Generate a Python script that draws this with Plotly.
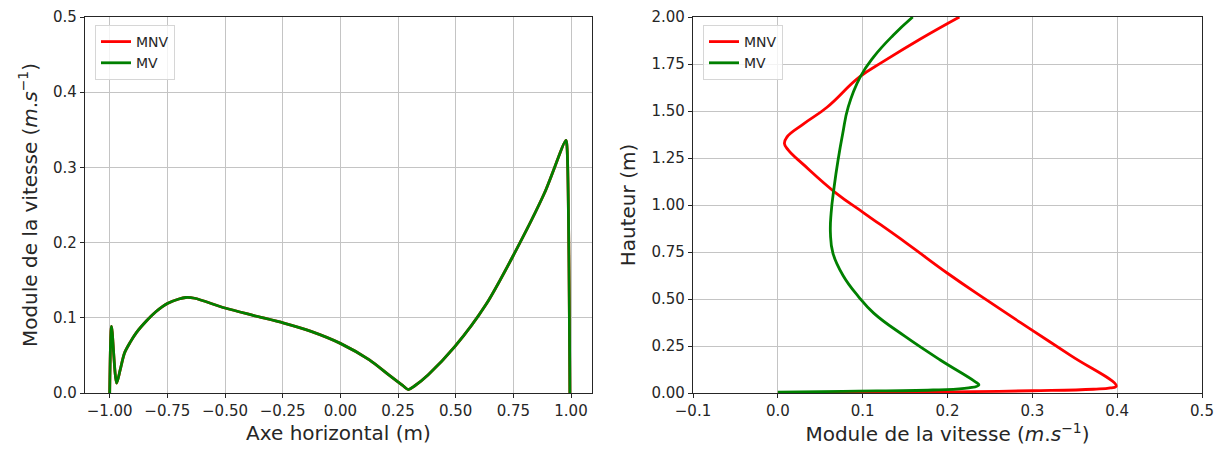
import plotly.graph_objects as go

# ---- Left panel data (horizontal profile) ----
x_h = [-1.0, -0.992, -0.97, -0.955, -0.936, -0.91, -0.885, -0.84, -0.80, -0.75, -0.70, -0.67, -0.632,
       -0.5, -0.375, -0.245, -0.127, 0.0, 0.126, 0.21, 0.27, 0.295, 0.32, 0.38, 0.497,
       0.632, 0.75, 0.885, 0.978, 0.982, 0.995]
mnv_h = [0.0, 0.0885, 0.013, 0.03, 0.053, 0.068, 0.08, 0.096, 0.108, 0.119, 0.125, 0.127, 0.126,
         0.113, 0.103, 0.093, 0.082, 0.066, 0.044, 0.024, 0.01, 0.0045, 0.009, 0.024, 0.062,
         0.118, 0.183, 0.266, 0.336, 0.33, 0.0]
mv_h = [0.0, 0.0885, 0.013, 0.03, 0.053, 0.068, 0.08, 0.096, 0.108, 0.119, 0.125, 0.127, 0.126,
        0.113, 0.103, 0.093, 0.082, 0.066, 0.044, 0.024, 0.01, 0.0045, 0.009, 0.024, 0.062,
        0.118, 0.183, 0.266, 0.336, 0.33, 0.0]

# ---- Right panel data (vertical profile) ----
mnv_v = [0.0, 0.2, 0.30, 0.372, 0.392, 0.399, 0.345, 0.296, 0.246, 0.2, 0.152, 0.102, 0.069,
         0.031, 0.0124, 0.0078, 0.0105, 0.03, 0.058, 0.096, 0.125, 0.168, 0.214]
mnv_z = [0.0, 0.006, 0.012, 0.02, 0.027, 0.037, 0.2, 0.345, 0.495, 0.637, 0.796, 0.956, 1.062,
         1.212, 1.292, 1.327, 1.36, 1.43, 1.52, 1.68, 1.765, 1.883, 2.0]
mv_v = [0.0, 0.0765, 0.183, 0.225, 0.237, 0.232, 0.191, 0.15, 0.113, 0.095, 0.0765, 0.065,
        0.062, 0.0628, 0.0664, 0.071, 0.0765, 0.083, 0.097, 0.113, 0.136, 0.159]
mv_z = [0.004, 0.009, 0.016, 0.027, 0.043, 0.062, 0.177, 0.301, 0.425, 0.513, 0.628, 0.743,
        0.85, 0.956, 1.097, 1.239, 1.38, 1.522, 1.68, 1.788, 1.903, 2.0]

RED = "#ff0000"
GREEN = "#008000"
FONT = "DejaVu Sans"
TXT = "#262626"

fig = go.Figure()
left_line = dict(width=2.8, shape="spline", smoothing=0.8)
right_line = dict(width=2.8, shape="spline", smoothing=1.3)
fig.add_trace(go.Scatter(x=x_h, y=mnv_h, mode="lines", name="MNV",
                         line=dict(color=RED, **left_line), xaxis="x", yaxis="y", legend="legend"))
fig.add_trace(go.Scatter(x=x_h, y=mv_h, mode="lines", name="MV",
                         line=dict(color=GREEN, **left_line), xaxis="x", yaxis="y", legend="legend"))
fig.add_trace(go.Scatter(x=mnv_v, y=mnv_z, mode="lines", name="MNV",
                         line=dict(color=RED, **right_line), xaxis="x2", yaxis="y2", legend="legend2"))
fig.add_trace(go.Scatter(x=mv_v, y=mv_z, mode="lines", name="MV",
                         line=dict(color=GREEN, **right_line), xaxis="x2", yaxis="y2", legend="legend2"))

axis_common = dict(showline=True, linecolor=TXT, linewidth=1.2, mirror=True,
                   ticks="outside", ticklen=4, tickcolor=TXT, tickwidth=1.2,
                   showgrid=True, gridcolor="#c4c4c4", gridwidth=1.2, zeroline=False,
                   automargin=False,
                   tickfont=dict(family=FONT, size=15, color=TXT))
title_font = dict(family=FONT, size=20, color=TXT)

legend_common = dict(bgcolor="rgba(255,255,255,0.8)", bordercolor="#d6d6d6", borderwidth=1,
                     font=dict(family=FONT, size=14, color=TXT),
                     xanchor="left", yanchor="top", tracegroupgap=0, itemwidth=30)

L, R, T, B = 85, 17, 17, 63
W = 1219 - L - R
H = 456 - T - B

vel_title = "Module de la vitesse (<i>m</i>.<i>s</i><sup>−1</sup>)"

fig.update_layout(
    width=1219, height=456,
    margin=dict(l=L, r=R, t=T, b=B, autoexpand=False),
    paper_bgcolor="white", plot_bgcolor="white",
    showlegend=True,
    xaxis=dict(domain=[0, (592 - L) / W], range=[-1.107, 1.091],
               tickvals=[-1, -0.75, -0.5, -0.25, 0, 0.25, 0.5, 0.75, 1],
               tickformat=".2f", title=dict(text="Axe horizontal (m)", font=title_font, standoff=6),
               anchor="y", **axis_common),
    yaxis=dict(domain=[0, 1], range=[0, 0.5], tickvals=[0, 0.1, 0.2, 0.3, 0.4, 0.5],
               tickformat=".1f",
               title=dict(text=vel_title, font=title_font, standoff=10),
               anchor="x", **axis_common),
    xaxis2=dict(domain=[(693 - L) / W, 1], range=[-0.1, 0.5], tickvals=[-0.1, 0, 0.1, 0.2, 0.3, 0.4, 0.5],
                tickformat=".1f",
                title=dict(text=vel_title, font=title_font, standoff=6),
                anchor="y2", **axis_common),
    yaxis2=dict(domain=[0, 1], range=[0, 2], tickvals=[0, 0.25, 0.5, 0.75, 1, 1.25, 1.5, 1.75, 2],
                tickformat=".2f", title=dict(text="Hauteur (m)", font=title_font, standoff=10),
                anchor="x2", **axis_common),
    legend=dict(x=(95 - L) / W, y=(393 - 25) / H, **legend_common),
    legend2=dict(x=(703 - L) / W, y=(393 - 25) / H, **legend_common),
)

fig.write_html("out.html", config={"displayModeBar": False},
               post_script="document.body.style.margin='0';document.body.style.padding='0';")
